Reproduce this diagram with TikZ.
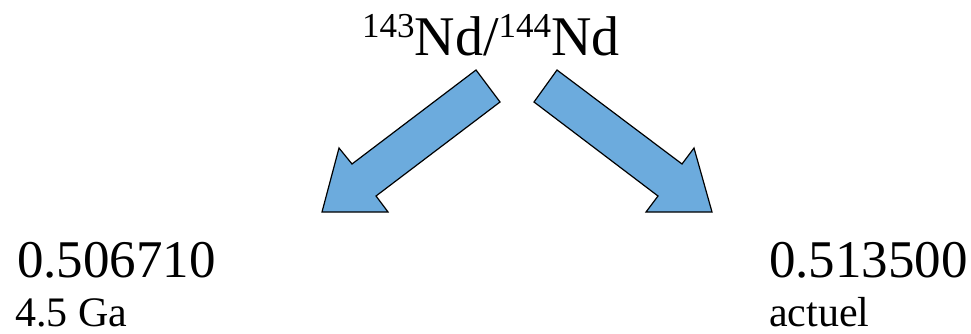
\documentclass[tikz,border=0pt]{standalone}
\usepackage{fontspec}
\setmainfont{Liberation Serif}
\definecolor{flecheblue}{RGB}{108,171,221}
\newcommand{\isotope}[1]{\raisebox{18pt}{\fontsize{35}{35}\selectfont #1}}

\begin{document}
\begin{tikzpicture}[
        x=1pt, y=-1pt, % coordonnées en points, y vers le bas
        titre/.style = {anchor=base west, inner sep=0pt, font=\fontsize{56}{60}\selectfont},
        valeur/.style = {anchor=base west, inner sep=0pt, font=\fontsize{53}{56}\selectfont},
        legende/.style = {anchor=base west, inner sep=0pt, font=\fontsize{42}{44}\selectfont},
        fleche/.style = {draw=black, line width=1.2pt, fill=flecheblue, line join=miter},
    ]
    \useasboundingbox (0,0) rectangle (971,333);

    \node[titre] (rapport) at (362,55) {\isotope{143}Nd/\isotope{144}Nd};

    \node[valeur] (ancien) at (17,277) {0.506710};
    \node[legende] (age) at (15,326) {4.5 Ga};

    \node[valeur] (actuel) at (769,277) {0.513500};
    \node[legende] (present) at (769,326) {actuel};

    % flèches pleines
    \draw[fleche] (476,70) -- (500,102) -- (376,196) -- (388,212) -- (322,212) -- (339,148) -- (352,164) -- cycle;
    \draw[fleche] (557,70) -- (534,102) -- (658,196) -- (646,212) -- (712,212) -- (694,148) -- (682,164) -- cycle;
\end{tikzpicture}
\end{document}
